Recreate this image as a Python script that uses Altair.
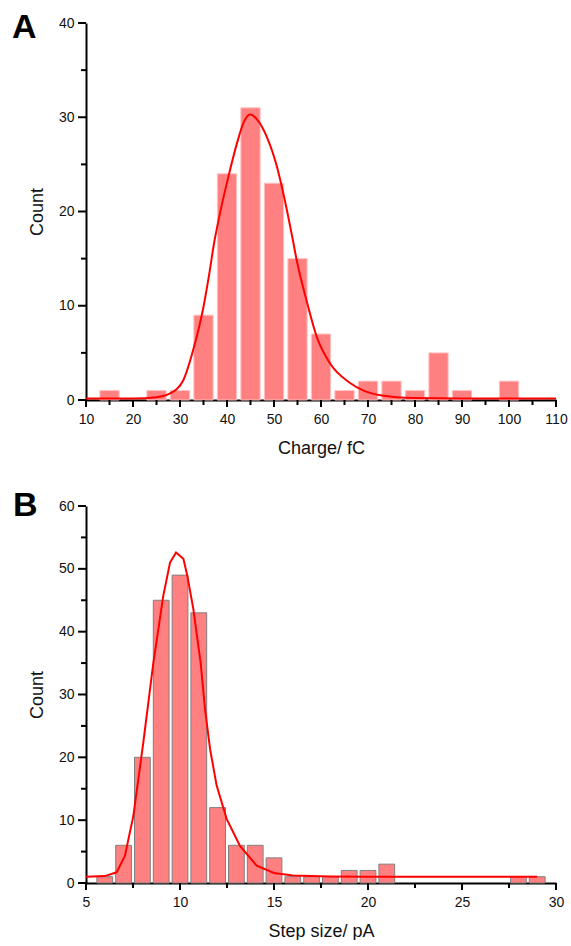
import altair as alt
import pandas as pd

# Panel A: charge histogram
a_centers = [15, 20, 25, 30, 35, 40, 45, 50, 55, 60, 65, 70, 75, 80, 85, 90, 95, 100, 105]
a_counts = [1, 0, 1, 1, 9, 24, 31, 23, 15, 7, 1, 2, 2, 1, 5, 1, 0, 2, 0]
a_fit_x = [10, 20, 25, 27.9, 30.7, 32.8, 35, 36.2, 37.2, 38.5, 40.3, 42.1, 43.5, 44.9, 46.5,
           48.4, 50.6, 52.3, 54, 54.8, 56.9, 59.1, 61.9, 66.2, 72.6, 80, 90, 110]
a_fit_y = [0.15, 0.15, 0.3, 0.7, 2.1, 5.3, 9.9, 13.3, 16.5, 19.8, 23.7, 27.2, 29.4, 30.3, 29.7,
           28, 24.8, 21.2, 17, 14.9, 10.6, 6.7, 3.9, 1.8, 0.5, 0.2, 0.15, 0.15]

# Panel B: step size histogram
b_centers = list(range(6, 30))
b_counts = [1, 6, 20, 45, 49, 43, 12, 6, 6, 4, 1, 1, 1, 2, 2, 3, 0, 0, 0, 0, 0, 0, 1, 1]
b_fit_x = [5, 6, 6.63, 7.07, 7.52, 8.05, 8.58, 8.85, 9.11, 9.47, 9.79, 10.18, 10.39, 10.71,
           11.1, 11.33, 11.6, 11.95, 12.48, 13.19, 14.08, 15, 16, 18, 20, 29]
b_fit_y = [1.0, 1.1, 1.7, 4.3, 10.7, 22.4, 35, 40.4, 45.7, 51, 52.6, 51.6, 48.9, 43.6,
           35, 27.7, 21.3, 15.5, 10.2, 5.9, 2.75, 1.6, 1.2, 1.05, 1.0, 1.0]

a_xticks = [10, 15, 20, 25, 30, 35, 40, 45, 50, 55, 60, 65, 70, 75, 80, 85, 90, 95, 100, 105, 110]
a_yticks = [0, 5, 10, 15, 20, 25, 30, 35, 40]
b_xticks = [5, 7.5, 10, 12.5, 15, 17.5, 20, 22.5, 25, 27.5, 30]
b_yticks = [0, 5, 10, 15, 20, 25, 30, 35, 40, 45, 50, 55, 60]

FONT = "Liberation Sans"
W, H = 470, 377


def make_axis(values, major_test, title, title_pad, label_pad):
    return alt.Axis(
        values=values,
        labelExpr=f"({major_test.replace('datum.v', 'datum.value')}) ? datum.label : ''",
        ticks=False,
        title=title,
        grid=False,
        domainColor="black",
        domainWidth=2,
        labelFont=FONT,
        labelFontSize=14,
        labelColor="#111111",
        labelPadding=label_pad,
        labelFlush=False,
        labelOverlap=False,
        titleFont=FONT,
        titleFontSize=18,
        titleFontWeight="normal",
        titleColor="#111111",
        titlePadding=title_pad,
    )


def panel(centers, counts, half, fit_x, fit_y, xdom, ydom, xvals, xtest, yvals, ytest,
          xtitle, letter, stroke, interp, lx, ly):
    bars = pd.DataFrame({"c": centers, "n": counts})
    fit = pd.DataFrame({"x": fit_x, "y": fit_y})
    xs = alt.Scale(domain=xdom, nice=False, zero=False)
    ys = alt.Scale(domain=ydom, nice=False)
    xaxis = make_axis(xvals, xtest, xtitle, 13, 12)
    yaxis = make_axis(yvals, ytest, "Count", 12, 12)
    bar = alt.Chart(bars).transform_filter("datum.n > 0").transform_calculate(
        lo=f"datum.c - {half}", hi=f"datum.c + {half}"
    ).mark_bar(color="#FF8080", stroke=stroke, strokeWidth=1).encode(
        x=alt.X("lo:Q", scale=xs, axis=xaxis),
        x2="hi:Q",
        y=alt.Y("n:Q", scale=ys, axis=yaxis),
        y2=alt.datum(0),
    )
    line = alt.Chart(fit).mark_line(color="#FF0000", strokeWidth=2, interpolate=interp).encode(
        x=alt.X("x:Q", scale=xs),
        y=alt.Y("y:Q", scale=ys),
    )
    # tick marks (major longer than minor)
    xt = pd.DataFrame({"v": xvals})
    yt = pd.DataFrame({"v": yvals})
    layers = [bar, line]
    for test, xlen, ylen in [(xtest, 7, 7), (f"!({xtest})", 5, 5)]:
        layers.append(
            alt.Chart(xt).transform_filter(test).mark_rule(color="black", strokeWidth=2).encode(
                x=alt.X("v:Q", scale=xs), y=alt.value(H), y2=alt.value(H + xlen)
            )
        )
    for test, ylen in [(ytest, 8), (f"!({ytest})", 5)]:
        layers.append(
            alt.Chart(yt).transform_filter(test).mark_rule(color="black", strokeWidth=2).encode(
                y=alt.Y("v:Q", scale=ys), x=alt.value(0), x2=alt.value(-ylen)
            )
        )
    label = alt.Chart(pd.DataFrame({"t": [letter]})).mark_text(
        font=FONT, fontSize=34, fontWeight="bold", align="left", baseline="alphabetic", color="black"
    ).encode(text="t:N", x=alt.value(lx), y=alt.value(ly))
    layers.append(label)
    return alt.layer(*layers).properties(width=W, height=H)


chart_a = panel(a_centers, a_counts, 2.05, a_fit_x, a_fit_y, [10, 110], [0, 40],
                a_xticks, "datum.v % 10 === 0", a_yticks, "datum.v % 10 === 0",
                "Charge/ fC", "A", "#FFC0C0", "monotone", -74, 15)
chart_b = panel(b_centers, b_counts, 0.42, b_fit_x, b_fit_y, [5, 30], [0, 60],
                b_xticks, "datum.v % 5 === 0", b_yticks, "datum.v % 10 === 0",
                "Step size/ pA", "B", "#808080", "linear", -73, 10)

chart = alt.vconcat(chart_a, chart_b, spacing=32).configure_view(stroke=None).properties(
    padding={"left": 12, "top": 11, "right": 0, "bottom": 0},
    background="white",
)

chart.save("out.html", embed_options={"renderer": "svg", "actions": False})
